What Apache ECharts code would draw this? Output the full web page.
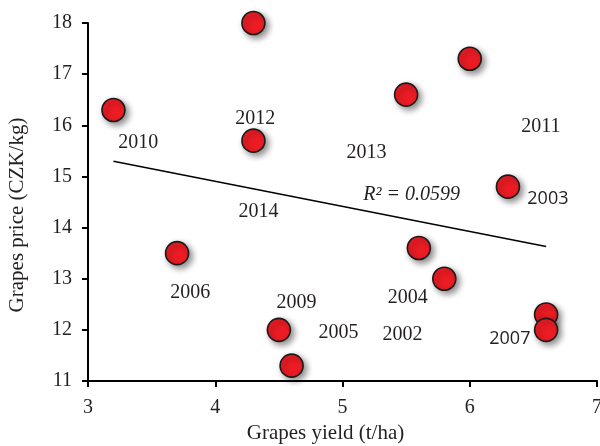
<!DOCTYPE html>
<html>
<head>
<meta charset="utf-8">
<script src="https://cdn.jsdelivr.net/npm/echarts@6/dist/echarts.min.js"></script>
<style>
  html, body { margin: 0; padding: 0; background: #fff; }
  #chart { width: 600px; height: 446px; }
</style>
</head>
<body>
<div id="chart"></div>
<script>
// Grape yield (t/ha) against grape price (CZK/kg), one point per year
const yieldValues = [3.2, 4.3, 4.3, 5.5, 6.0, 6.3, 3.7, 5.6, 5.8, 4.5, 4.6, 6.6, 6.6];
const priceValues = [16.3, 18.0, 15.7, 16.6, 17.3, 14.8, 13.5, 13.6, 13.0, 12.0, 11.3, 12.3, 12.0];

// Year captions and where they sit in the plot (data units)
const yearLabels = ['2010', '2012', '2013', '2011', '2003', '2014', '2006', '2009', '2004', '2005', '2002', '2007'];
const yearLabelX = [3.394, 4.315, 5.189, 6.559, 6.614, 4.339, 3.803, 4.638, 5.512, 4.969, 5.472, 6.315];
const yearLabelY = [15.657, 16.128, 15.461, 15.971, 14.559, 14.304, 12.735, 12.539, 12.637, 11.951, 11.912, 11.833];
const sansLabels = ['2003', '2007'];

const xTicks = [3, 4, 5, 6, 7];
const yTicks = [11, 12, 13, 14, 15, 16, 17, 18];

// Least-squares trend line across the observed yield range
const n = yieldValues.length;
const mx = yieldValues.reduce((a, b) => a + b, 0) / n;
const my = priceValues.reduce((a, b) => a + b, 0) / n;
let sxy = 0, sxx = 0, syy = 0;
for (let i = 0; i < n; i++) {
  sxy += (yieldValues[i] - mx) * (priceValues[i] - my);
  sxx += (yieldValues[i] - mx) ** 2;
  syy += (priceValues[i] - my) ** 2;
}
const slope = sxy / sxx;
const intercept = my - slope * mx;
const r2 = (sxy * sxy) / (sxx * syy);
const xMin = Math.min(...yieldValues), xMax = Math.max(...yieldValues);
const trend = [[xMin, intercept + slope * xMin], [xMax, intercept + slope * xMax]];

const serif = '"Liberation Serif", "DejaVu Serif", serif';
const sans = '"Open Sans", "Liberation Sans", sans-serif';
const ink = '#231f20';

const chart = echarts.init(document.getElementById('chart'), null, { renderer: 'canvas' });
chart.setOption({
  animation: false,
  backgroundColor: '#ffffff',
  grid: { left: 88, right: 3, top: 23, bottom: 65, containLabel: false, outerBoundsMode: 'none' },
  xAxis: {
    type: 'value', min: xTicks[0], max: xTicks[xTicks.length - 1], interval: 1,
    name: 'Grapes yield (t/ha)', nameLocation: 'middle', nameGap: 37,
    nameTextStyle: { fontFamily: serif, fontSize: 21, color: ink, padding: [0, 34, 0, 0] },
    axisLine: { lineStyle: { color: '#000', width: 2 } },
    axisTick: { show: true, length: 6, lineStyle: { color: '#000', width: 2 } },
    axisLabel: { fontFamily: serif, fontSize: 20, color: ink, margin: 17 },
    splitLine: { show: false }
  },
  yAxis: {
    type: 'value', min: yTicks[0], max: yTicks[yTicks.length - 1], interval: 1,
    name: 'Grapes price (CZK/kg)', nameLocation: 'middle', nameGap: 60,
    nameTextStyle: { fontFamily: serif, fontSize: 21, color: ink, padding: [0, 0, 0, -26] },
    axisLine: { show: true, lineStyle: { color: '#000', width: 2 } },
    axisTick: { show: true, length: 6, lineStyle: { color: '#000', width: 2 } },
    axisLabel: { fontFamily: serif, fontSize: 20, color: ink, margin: 16 },
    splitLine: { show: false }
  },
  series: [
    {
      type: 'line',
      data: trend,
      symbol: 'none',
      lineStyle: { color: '#000', width: 1.5 },
      silent: true,
      z: 2
    },
    {
      type: 'scatter',
      data: yieldValues.map((x, i) => [x, priceValues[i]]),
      symbol: 'circle',
      symbolSize: 23,
      itemStyle: {
        color: '#ed1c24', borderColor: '#1a1a1a', borderWidth: 1.6, opacity: 1,
        shadowColor: 'rgba(0,0,0,0.45)', shadowBlur: 6, shadowOffsetX: 3, shadowOffsetY: 3
      },
      z: 3
    },
    {
      type: 'scatter',
      data: yearLabels.map((t, i) => ({
        value: [yearLabelX[i], yearLabelY[i]],
        name: t,
        label: sansLabels.includes(t) ? { fontFamily: sans, fontSize: 18 } : {}
      })),
      symbolSize: 0,
      silent: true,
      itemStyle: { opacity: 1 },
      label: {
        show: true, position: 'inside', formatter: p => p.name,
        fontFamily: serif, fontSize: 20, color: ink
      },
      z: 4
    },
    {
      type: 'scatter',
      data: [{ value: [5.543, 14.637], name: 'R² = ' + r2.toFixed(4) }],
      symbolSize: 0,
      silent: true,
      itemStyle: { opacity: 1 },
      label: {
        show: true, position: 'inside', formatter: p => p.name,
        fontFamily: serif, fontStyle: 'italic', fontSize: 20, color: ink
      },
      z: 4
    }
  ]
});
</script>
</body>
</html>
